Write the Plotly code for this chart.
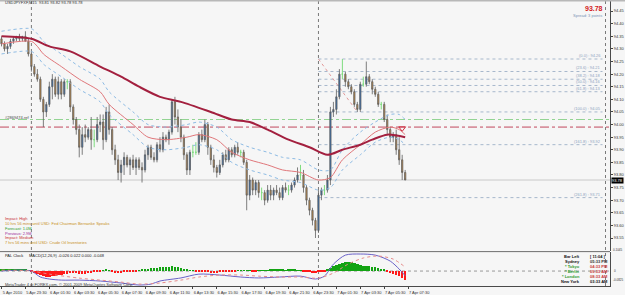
import plotly.graph_objects as go

# ---------------- data ----------------
bars = list(range(136))
opens = [94.34,94.32,94.30,94.31,94.33,94.34,94.35,94.34,94.35,94.33,
         94.28,94.23,94.20,94.18,94.10,94.05,94.08,94.15,94.18,94.12,
         94.17,94.12,94.17,94.17,94.07,94.02,93.98,93.91,93.96,93.95,
         93.98,93.94,93.94,94.00,94.01,93.94,94.05,93.98,93.90,93.86,
         93.81,93.84,93.87,93.84,93.86,93.83,93.86,93.83,93.82,93.88,
         93.91,93.87,93.86,93.92,93.90,93.95,93.94,93.97,94.09,94.03,
         93.99,93.95,93.88,93.82,93.89,93.89,93.89,93.96,93.94,94.00,
         93.91,93.86,93.83,93.81,93.84,93.88,93.86,93.90,93.88,93.91,
         93.89,93.89,93.85,93.72,93.78,93.74,93.77,93.73,93.73,93.70,
         93.74,93.72,93.74,93.73,93.71,93.75,93.74,93.74,93.76,93.78,
         93.80,93.80,93.75,93.70,93.66,93.62,93.58,93.72,93.74,93.74,
         93.78,94.05,94.06,94.11,94.20,94.20,94.17,94.15,94.13,94.08,
         94.06,94.16,94.16,94.19,94.17,94.14,94.12,94.08,94.08,94.02,
         93.98,93.95,93.96,93.90,93.86,93.81]
highs = [94.35,94.33,94.32,94.34,94.35,94.35,94.36,94.35,94.37,94.34,
         94.29,94.24,94.22,94.19,94.11,94.09,94.17,94.20,94.19,94.19,
         94.18,94.18,94.18,94.18,94.08,94.03,94.00,93.99,94.00,93.99,
         94.03,93.98,94.03,94.04,94.04,94.07,94.08,93.99,93.92,93.88,
         93.86,93.89,93.88,93.87,93.88,93.87,93.87,93.85,93.90,93.92,
         93.92,93.89,93.93,93.95,93.97,93.96,93.98,94.10,94.11,94.06,
         94.02,93.96,93.89,93.90,93.92,93.93,93.97,93.98,94.02,94.01,
         93.92,93.88,93.84,93.86,93.89,93.90,93.91,93.91,93.92,93.93,
         93.90,93.90,93.86,93.80,93.79,93.78,93.78,93.75,93.74,93.76,
         93.76,93.75,93.76,93.75,93.76,93.77,93.76,93.77,93.79,93.83,
         93.84,93.82,93.76,93.71,93.67,93.63,93.74,93.75,93.76,93.80,
         94.07,94.09,94.14,94.22,94.26,94.21,94.18,94.16,94.14,94.09,
         94.17,94.19,94.25,94.20,94.18,94.15,94.13,94.09,94.09,94.04,
         93.99,93.97,93.98,93.95,93.88,93.82]
lows = [94.31,94.29,94.28,94.30,94.32,94.33,94.33,94.33,94.33,94.27,
        94.21,94.19,94.17,94.09,93.99,94.03,94.07,94.10,94.11,94.10,
        94.10,94.11,94.14,94.05,94.00,93.96,93.87,93.88,93.93,93.94,
        93.90,93.91,93.93,93.97,93.90,93.93,93.96,93.88,93.84,93.78,
        93.77,93.80,93.83,93.80,93.82,93.80,93.82,93.77,93.81,93.86,
        93.86,93.85,93.85,93.89,93.89,93.93,93.92,93.96,94.00,93.97,
        93.93,93.86,93.80,93.80,93.87,93.88,93.88,93.93,93.93,93.88,
        93.84,93.81,93.79,93.80,93.83,93.85,93.85,93.87,93.87,93.88,
        93.87,93.84,93.66,93.70,93.72,93.72,93.71,93.70,93.68,93.69,
        93.70,93.70,93.72,93.70,93.70,93.73,93.72,93.73,93.75,93.77,
        93.78,93.73,93.68,93.64,93.60,93.55,93.57,93.70,93.72,93.73,
        93.76,94.03,94.04,94.10,94.18,94.15,94.14,94.12,94.07,94.05,
        94.05,94.15,94.15,94.16,94.12,94.11,94.07,94.06,94.01,93.96,
        93.93,93.93,93.88,93.84,93.78,93.78]
closes = [94.32,94.30,94.31,94.33,94.34,94.35,94.34,94.35,94.33,94.28,
          94.23,94.20,94.18,94.10,94.05,94.08,94.15,94.18,94.12,94.17,
          94.12,94.17,94.17,94.07,94.02,93.98,93.91,93.96,93.95,93.98,
          93.94,93.94,94.00,94.01,93.94,94.05,93.98,93.90,93.86,93.81,
          93.84,93.87,93.84,93.86,93.83,93.86,93.83,93.82,93.88,93.91,
          93.87,93.86,93.92,93.90,93.95,93.94,93.97,94.09,94.03,93.99,
          93.95,93.88,93.82,93.89,93.89,93.89,93.96,93.94,94.00,93.91,
          93.86,93.83,93.81,93.84,93.88,93.86,93.90,93.88,93.91,93.89,
          93.89,93.85,93.72,93.78,93.74,93.77,93.73,93.73,93.70,93.74,
          93.72,93.74,93.73,93.71,93.75,93.74,93.74,93.76,93.78,93.80,
          93.80,93.75,93.70,93.66,93.62,93.58,93.72,93.74,93.74,93.78,
          94.05,94.06,94.11,94.20,94.20,94.17,94.15,94.13,94.08,94.06,
          94.16,94.16,94.19,94.17,94.14,94.12,94.08,94.08,94.02,93.98,
          93.95,93.96,93.90,93.86,93.81,93.78]

# moving averages (read at sample bars)
slow_idx = [0,10,16,23,33,40,46,53,60,70,77,83,89,96,103,109,114,120,124,129,135]
slow_val = [94.35,94.34,94.31,94.29,94.23,94.19,94.15,94.11,94.09,94.05,94.02,94.01,
            93.98,93.94,93.91,93.88,93.90,93.92,93.94,93.96,93.95]
band_idx = [0,10,12,14,20,26,33,36,44,49,55,62,66,72,77,83,89,94,100,106,110,114,120,125,130,133,135]
mid_val = [94.32,94.33,94.31,94.28,94.23,94.18,94.13,94.08,94.00,93.95,93.94,93.95,93.96,
           93.94,93.89,93.86,93.84,93.82,93.81,93.78,93.79,93.86,93.92,93.97,93.99,93.98,93.96]
upper_val = [94.37,94.38,94.36,94.33,94.28,94.23,94.18,94.13,94.05,94.00,93.99,94.00,94.01,
             93.99,93.94,93.91,93.89,93.87,93.86,93.82,93.82,93.90,93.97,94.01,94.04,94.04,94.02]
lower_val = [94.28,94.29,94.27,94.24,94.19,94.14,94.09,94.04,93.96,93.91,93.90,93.91,93.92,
             93.90,93.85,93.82,93.80,93.78,93.77,93.74,93.75,93.82,93.88,93.93,93.95,93.94,93.92]

# MACD sub-window
macd_idx = [0,6,10,13,16,20,26,33,40,46,50,53,60,66,73,80,86,93,100,105,108,111,115,120,125,130,133,135]
macd_val = [0.000,0.005,0.000,-0.033,-0.044,-0.050,-0.050,-0.055,-0.066,-0.077,-0.072,-0.055,
            -0.038,-0.017,-0.022,-0.033,-0.038,-0.033,-0.028,-0.044,-0.028,0.038,0.088,0.094,
            0.088,0.055,0.011,-0.026]
sig_idx = [0,10,16,26,33,40,46,53,60,66,73,80,86,93,100,106,111,116,121,126,131,135]
sig_val = [0.005,0.000,-0.017,-0.039,-0.050,-0.061,-0.072,-0.066,-0.050,-0.033,-0.022,-0.022,
           -0.028,-0.033,-0.033,-0.039,-0.011,0.039,0.072,0.083,0.066,0.022]
hist_val = [0.006,0.008,0.008,0.009,0.009,0.008,0.008,0.007,0.006,0.004,
            -0.006,-0.011,-0.017,-0.022,-0.028,-0.033,-0.033,-0.028,-0.028,-0.022,-0.022,-0.017,-0.017,-0.011,
            -0.011,-0.011,-0.017,-0.017,-0.017,-0.011,-0.011,-0.006,-0.006,
            -0.003,0.003,0.006,0.003,
            -0.006,-0.011,-0.011,-0.011,-0.008,-0.006,-0.006,-0.003,-0.003,0.001,
            0.006,0.008,0.011,0.014,0.017,0.017,0.019,0.019,0.022,0.022,0.025,0.022,0.019,0.017,0.011,0.006,
            0.003,0.001,-0.003,-0.003,
            -0.006,-0.006,-0.008,-0.011,-0.011,-0.011,-0.008,-0.008,-0.006,-0.006,-0.003,-0.003,
            0.003,0.003,0.003,0.003,0.001,-0.003,-0.003,0.001,0.003,0.003,0.003,0.006,0.006,0.006,0.006,
            0.006,0.003,0.006,0.006,0.006,0.003,0.003,
            -0.003,-0.006,-0.008,-0.011,-0.011,-0.008,-0.006,-0.003,
            0.006,0.017,0.028,0.033,0.039,0.044,0.047,0.050,0.047,0.044,0.039,0.033,0.028,0.028,0.025,
            0.022,0.019,0.017,0.011,0.006,
            -0.006,-0.011,-0.017,-0.022,-0.028,-0.039,-0.048]

time_ticks = list(range(0, 137, 8))
time_labels = ["5 Apr 2010","5 Apr 23:30","6 Apr 01:30","6 Apr 03:30","6 Apr 05:30","6 Apr 07:30",
               "6 Apr 09:30","6 Apr 11:30","6 Apr 13:30","6 Apr 15:30","6 Apr 17:30","6 Apr 19:30",
               "6 Apr 21:30","6 Apr 23:30","7 Apr 01:30","7 Apr 03:30","7 Apr 05:30","7 Apr 07:30"]
price_ticks = [93.55,93.60,93.65,93.70,93.75,93.80,93.85,93.90,93.95,94.00,94.05,94.10,
               94.15,94.20,94.25,94.30,94.35,94.40,94.45]
day_breaks = [10, 106, 202]

fib_high, fib_low = 94.26, 94.05
fib_levels = [0.0, 23.6, 38.2, 50.0, 61.8, 100.0, 161.8, 261.8]
fib_start, fib_end = 106, 201
fib_anchor_end = 119

ref_green = 94.02
ref_red = 93.99
bid = 93.78

# ---------------- figure ----------------
FONT = "Liberation Sans, Arial, sans-serif"
PLOT_H = 287.0  # plot-area height in px (for paper positioning of labels)


def py(pix):
    return (PLOT_H - pix) / PLOT_H


def px(pix):
    return pix / 612.0


fig = go.Figure()

doji = [i for i in bars if abs(closes[i] - opens[i]) < 0.005]
body = [i for i in bars if i not in doji]

fig.add_trace(go.Candlestick(
    x=body, open=[opens[i] for i in body], high=[highs[i] for i in body],
    low=[lows[i] for i in body], close=[closes[i] for i in body],
    increasing=dict(fillcolor="#2f6db5", line=dict(color="#5e5e5e", width=0.8)),
    decreasing=dict(fillcolor="#c98b3f", line=dict(color="#5e5e5e", width=0.8)),
    whiskerwidth=0, hoverinfo="skip", showlegend=False, xaxis="x", yaxis="y"))
fig.add_trace(go.Candlestick(
    x=doji, open=[opens[i] for i in doji], high=[highs[i] for i in doji],
    low=[lows[i] for i in doji], close=[closes[i] for i in doji],
    increasing=dict(fillcolor="#7fdc7f", line=dict(color="#7fdc7f", width=1)),
    decreasing=dict(fillcolor="#7fdc7f", line=dict(color="#7fdc7f", width=1)),
    whiskerwidth=0, hoverinfo="skip", showlegend=False, xaxis="x", yaxis="y"))

fig.add_trace(go.Scatter(x=band_idx, y=upper_val, mode="lines", line=dict(color="#8dbbe4", width=1, dash="dot", shape="spline", smoothing=0.8), hoverinfo="skip", xaxis="x", yaxis="y"))
fig.add_trace(go.Scatter(x=band_idx, y=lower_val, mode="lines", line=dict(color="#8dbbe4", width=1, dash="dot", shape="spline", smoothing=0.8), hoverinfo="skip", xaxis="x", yaxis="y"))
fig.add_trace(go.Scatter(x=band_idx, y=mid_val, mode="lines", line=dict(color="#e0767a", width=1, shape="spline", smoothing=0.8), hoverinfo="skip", xaxis="x", yaxis="y"))
fig.add_trace(go.Scatter(x=slow_idx, y=slow_val, mode="lines", line=dict(color="#a3203f", width=2, shape="spline", smoothing=0.8), hoverinfo="skip", xaxis="x", yaxis="y"))

fig.add_trace(go.Scatter(x=[134], y=[93.985], mode="markers", marker=dict(symbol="triangle-down-open", size=6, color="#d03040", line=dict(width=1)), hoverinfo="skip", xaxis="x", yaxis="y"))

# MACD
fig.add_trace(go.Bar(x=bars, y=hist_val, width=0.8,
                     marker=dict(color=["#13a313" if v > 0 else "#ff1a1a" for v in hist_val], line=dict(width=0)),
                     hoverinfo="skip", xaxis="x2", yaxis="y2"))
fig.add_trace(go.Scatter(x=macd_idx, y=macd_val, mode="lines", line=dict(color="#6a62c8", width=1, shape="spline", smoothing=0.8), hoverinfo="skip", xaxis="x2", yaxis="y2"))
fig.add_trace(go.Scatter(x=sig_idx, y=sig_val, mode="lines", line=dict(color="#e58a8a", width=1, dash="dot", shape="spline", smoothing=0.8), hoverinfo="skip", xaxis="x2", yaxis="y2"))

shapes = []
# horizontal reference lines
shapes.append(dict(type="line", xref="paper", x0=0, x1=1, yref="y", y0=bid, y1=bid, line=dict(color="#c9c9c9", width=1), layer="below"))
shapes.append(dict(type="line", xref="paper", x0=0, x1=1, yref="y", y0=ref_green, y1=ref_green, line=dict(color="#93d493", width=1, dash="dashdot"), layer="below"))
shapes.append(dict(type="line", xref="paper", x0=0, x1=1, yref="y", y0=ref_red, y1=ref_red, line=dict(color="#c2485c", width=1, dash="dashdot"), layer="below"))
# fibonacci
for lv in fib_levels:
    p = fib_high - (fib_high - fib_low) * lv / 100.0
    shapes.append(dict(type="line", xref="x", x0=fib_start, x1=fib_end, yref="y", y0=p, y1=p, line=dict(color="#a7b8cc", width=1, dash="dot"), layer="below"))
shapes.append(dict(type="line", xref="x", x0=fib_start, x1=fib_anchor_end, yref="y", y0=fib_high, y1=fib_low, line=dict(color="#e39a9a", width=1, dash="dot"), layer="below"))
# day separators
for d in day_breaks:
    shapes.append(dict(type="line", xref="x", x0=d, x1=d, yref="paper", y0=0, y1=1, line=dict(color="#7a7a7a", width=1, dash="dot"), layer="below"))
# MACD zero level
shapes.append(dict(type="line", xref="paper", x0=0, x1=1, yref="y2", y0=0, y1=0, line=dict(color="#9a9a9a", width=1, dash="dot"), layer="below"))
# frame lines
shapes.append(dict(type="line", xref="paper", x0=0, x1=1, yref="paper", y0=py(252.5), y1=py(252.5), line=dict(color="#6e6e6e", width=1)))
shapes.append(dict(type="line", xref="paper", x0=0, x1=1.03, yref="paper", y0=py(0.5), y1=py(0.5), line=dict(color="#b8b8b8", width=2)))

ann = []


def txt(x, y, s, color="#222", size=4, anchor="left", bold=False):
    ann.append(dict(xref="paper", yref="paper", x=px(x), y=py(y), text=("<b>%s</b>" % s) if bold else s,
                    showarrow=False, xanchor=anchor, yanchor="middle",
                    font=dict(family=FONT, size=size, color=color)))


txt(3, 3, "USDJPYFXF,M15  93.81 93.82 93.78 93.78", "#333")
txt(607, 9, "93.78", "#d41a1a", 7, "right", True)
txt(606, 15.5, "Spread: 3 points", "#7b93b3", 4, "right")

for lv in fib_levels:
    p = fib_high - (fib_high - fib_low) * lv / 100.0
    ann.append(dict(xref="x", yref="y", x=fib_end, y=p, text="(%.1f) : %.2f" % (lv, p), showarrow=False,
                    xanchor="right", yanchor="bottom", yshift=-1,
                    font=dict(family=FONT, size=4, color="#8ea4bf")))

txt(3, 118, "#2869474.ref", "#444")

txt(3, 219, "Impact: High", "#c83232")
txt(3, 224, "10 hrs 56 mins until USD: Fed Chairman Bernanke Speaks", "#c8901e")
txt(3, 229.5, "Forecast: 1.0M", "#2a9a2a")
txt(3, 234, "Previous: 2.9M", "#9a2a9a")
txt(3, 238.5, "Impact: Medium", "#c83232")
txt(3, 243, "7 hrs 56 mins until USD: Crude Oil Inventories", "#c8901e")

txt(3, 256.5, "PAL Clock", "#222")
txt(27, 256.5, "MACD(12,26,9) -0.026 0.022 0.000 -0.048", "#222")
txt(3, 285, "MetaTrader 4 at FOREX.com, \u00a9 2001-2009 MetaQuotes Software Corp.", "#333")

clock_rows = [("Bar Left", "#111", "[ 11:04 ]", "#111"),
              ("Sydney", "#111", "05:33 PM", "#333"),
              ("* Tokyo", "#2f9b2f", "04:33 PM", "#c83a3a"),
              ("* Berlin", "#2f9b2f", "09:33 AM", "#c83a3a"),
              ("* London", "#2f9b2f", "08:33 AM", "#c83a3a"),
              ("New York", "#111", "03:33 AM", "#111")]
for k, (lab, lc, tm, tc) in enumerate(clock_rows):
    yy = 257 + 5 * k
    txt(584, yy, lab, lc, 4, "right", True)
    txt(590, yy, tm, tc, 4, "left", True)

# current price tag on the axis
ann.append(dict(xref="paper", yref="y", x=1.0, y=bid, text="93.78", showarrow=False, xanchor="left",
                xshift=1, bgcolor="#000000", borderpad=0,
                font=dict(family=FONT, size=4, color="#ffffff")))
# MACD scale labels
ann.append(dict(xref="paper", yref="paper", x=1.0, y=py(255), text="0.1045", showarrow=False, xanchor="left", xshift=1,
                font=dict(family=FONT, size=3, color="#333")))
ann.append(dict(xref="paper", yref="y2", x=1.0, y=0, text="0", showarrow=False, xanchor="left", xshift=2,
                font=dict(family=FONT, size=3, color="#333")))
ann.append(dict(xref="paper", yref="paper", x=1.0, y=py(285), text="-0.0825", showarrow=False, xanchor="left", xshift=1,
                font=dict(family=FONT, size=3, color="#333")))

fig.update_layout(
    width=625, height=295, margin=dict(l=0, r=13, t=0, b=8),
    paper_bgcolor="#f6f6f6", plot_bgcolor="#f6f6f6",
    showlegend=False, bargap=0, boxgap=0.4,
    font=dict(family=FONT, size=4, color="#333"),
    xaxis=dict(domain=[0, 1], range=[-0.5, 203.5], anchor="y", showticklabels=False, showgrid=False,
               zeroline=False, rangeslider=dict(visible=False), fixedrange=True),
    xaxis2=dict(domain=[0, 1], range=[-0.5, 203.5], anchor="y2", tickmode="array", tickvals=time_ticks,
                ticktext=time_labels, ticks="outside", ticklen=2, tickcolor="#444", ticklabelshift=11,
                tickfont=dict(family=FONT, size=4, color="#333"), showgrid=False, zeroline=False,
                showline=True, linecolor="#4a4a4a", linewidth=1, rangeslider=dict(visible=False)),
    yaxis=dict(domain=[py(252), 1], range=[93.498, 94.494], side="right", anchor="x", tickmode="array",
               tickvals=price_ticks, ticktext=["%.2f" % v for v in price_ticks], ticks="outside", ticklen=2,
               tickcolor="#444", tickfont=dict(family=FONT, size=4, color="#333"), showgrid=False,
               zeroline=False, showline=True, linecolor="#4a4a4a", linewidth=1),
    yaxis2=dict(domain=[0, py(253)], range=[-0.0825, 0.1045], side="right", anchor="x2", showticklabels=False,
                ticks="", showgrid=False, zeroline=False, showline=True, linecolor="#4a4a4a", linewidth=1),
    shapes=shapes, annotations=ann,
)

fig.write_html("out.html", config={"displayModeBar": False})
